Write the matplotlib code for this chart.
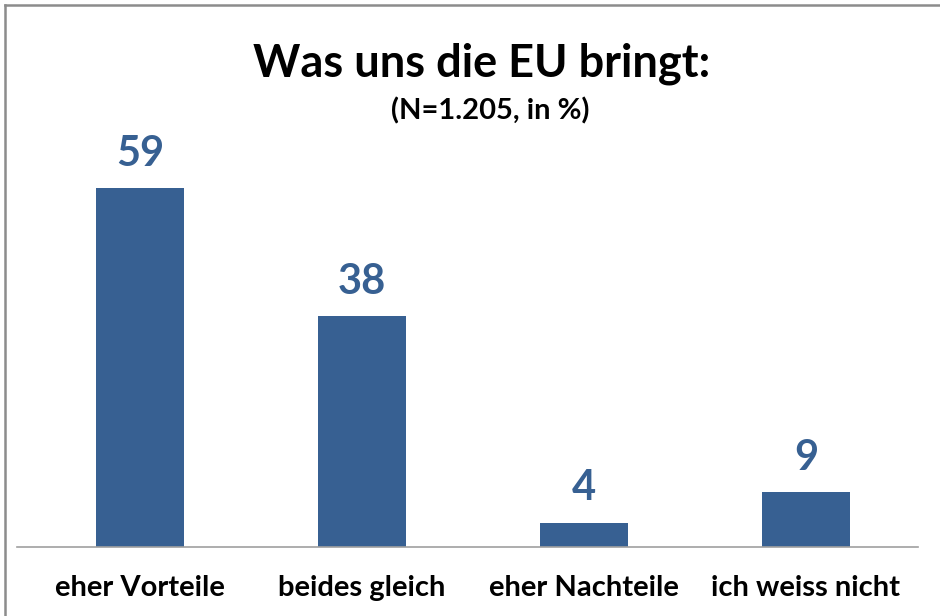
import numpy as np
from matplotlib import pyplot as plt
from matplotlib.lines import Line2D

categories = ['eher Vorteile', 'beides gleich', 'eher Nachteile', 'ich weiss nicht']
values = [59, 38, 4, 9]

bar_color = '#376092'
plt.rcParams['font.family'] = ['Lato', 'DejaVu Sans']

fig = plt.figure(figsize=(9.4, 6.16), dpi=100)
ax = fig.add_axes([17/940, 69/616, 901/940, 542/616])

x = np.arange(len(categories))
ax.bar(x, values, width=0.4, color=bar_color)
ax.set_xlim(-0.554, 3.505)
ax.set_ylim(0, 542/6.08)

for xi, v in zip(x, values):
    ax.annotate(str(v), (xi, v), xytext=(0, 16), textcoords='offset points',
                ha='center', va='baseline', fontsize=30, fontweight='bold',
                color=bar_color)

ax.set_xticks(x)
ax.set_xticklabels(categories, fontsize=21, fontweight='bold')
ax.tick_params(axis='x', length=0, pad=20)
ax.set_yticks([])
for side in ['top', 'right', 'left']:
    ax.spines[side].set_visible(False)
ax.spines['bottom'].set_color('#a0a0a0')
ax.spines['bottom'].set_linewidth(1.2)

fig.text(482/940, 1 - 64/616, 'Was uns die EU bringt:', ha='center', va='center',
         fontsize=32.5, fontweight='bold')
fig.text(490/940, 1 - 111/616, '(N=1.205, in %)', ha='center', va='center',
         fontsize=21, fontweight='bold')

# grey frame, top and left only (chart is cropped)
fig.add_artist(Line2D([5/940, 1], [1 - 5/616, 1 - 5/616], color='#8c8c8c', lw=1.8))
fig.add_artist(Line2D([5/940, 5/940], [0, 1 - 5/616], color='#8c8c8c', lw=1.8))

fig.savefig('out.png', dpi=100)
